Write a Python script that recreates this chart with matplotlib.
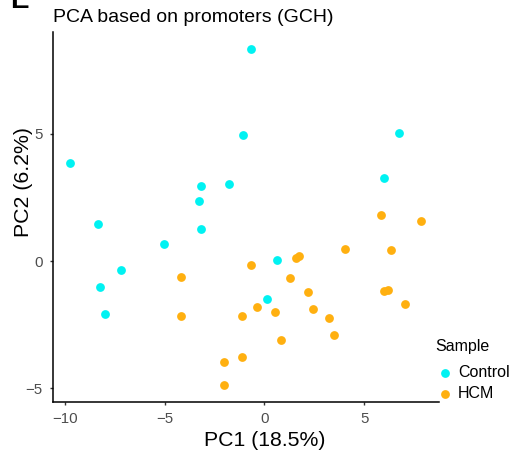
import matplotlib.pyplot as plt

plt.rcParams['font.family'] = ['Liberation Sans', 'DejaVu Sans']

# PCA scores per sample group
control_pc1 = [-0.68, -1.08, 6.72, 5.96, -1.79, -3.18, -3.26, -9.72, -8.34, -3.18,
               -5.01, -7.18, -8.21, -7.98, 0.63, 0.11]
control_pc2 = [8.34, 4.93, 5.03, 3.25, 3.03, 2.94, 2.37, 3.86, 1.47, 1.24,
               0.67, -0.35, -1.01, -2.07, 0.03, -1.49]

hcm_pc1 = [-4.16, -4.16, -0.68, -0.38, -1.13, -2.03, -1.11, -2.03, 0.51, 0.84,
           1.28, 1.58, 1.74, 2.16, 2.41, 3.23, 3.46, 4.01, 5.84, 7.84,
           6.31, 5.99, 6.19, 7.03]
hcm_pc2 = [-0.63, -2.16, -0.17, -1.79, -2.16, -3.95, -3.78, -4.87, -1.98, -3.09,
           -0.68, 0.13, 0.18, -1.23, -1.87, -2.24, -2.89, 0.46, 1.81, 1.57,
           0.42, -1.18, -1.13, -1.70]

groups = ['Control', 'HCM']
colors = ['#00F2F2', '#FFB010']
x_ticks = [-10, -5, 0, 5]
y_ticks = [-5, 0, 5]

fig = plt.figure(figsize=(5.12, 4.63), dpi=100)
ax = fig.add_axes([53 / 512, 1 - 401.7 / 463, (439 - 53) / 512, (401.7 - 32) / 463])

ax.scatter(control_pc1, control_pc2, s=40, color=colors[0], label=groups[0],
           linewidths=0, zorder=3)
ax.scatter(hcm_pc1, hcm_pc2, s=40, color=colors[1], label=groups[1],
           linewidths=0, zorder=3)

ax.set_xlim(-10.58, 8.73)
ax.set_ylim(-5.52, 8.99)
ax.set_xticks(x_ticks)
ax.set_yticks(y_ticks)
ax.set_xticklabels([str(t).replace('-', '\u2212') for t in x_ticks])
ax.set_yticklabels([str(t).replace('-', '\u2212') for t in y_ticks])
ax.tick_params(axis='both', length=2.5, width=1, color='#333333',
               labelcolor='#4D4D4D', labelsize=10.8, pad=5)

for side in ['top', 'right']:
    ax.spines[side].set_visible(False)
for side in ['left', 'bottom']:
    ax.spines[side].set_linewidth(1.1)
    ax.spines[side].set_color('black')

ax.set_xlabel('PC1 (18.5%)', fontsize=15.3)
ax.set_ylabel('PC2 (6.2%)', fontsize=15.3)
ax.xaxis.set_label_coords(0.549, -0.08)
ax.yaxis.set_label_coords(-0.052, 0.595)
ax.set_title('PCA based on promoters (GCH)', loc='left', fontsize=14, pad=7)

leg = ax.legend(title='Sample', loc='upper left', bbox_to_anchor=(435 / 512, 1 - 339 / 463),
                bbox_transform=fig.transFigure, frameon=False, fontsize=11.5,
                title_fontsize=11.5, borderpad=0, borderaxespad=0,
                handletextpad=0.25, labelspacing=0.4, handlelength=1.2,
                alignment='left')
# a bit more room between the legend title and its entries
leg._legend_box.sep = 8

# panel letter, partly cut off at the top edge
fig.text(10 / 512, 1 + 12 / 463, 'E', fontsize=20, fontweight='bold', va='top')

fig.savefig('out.png', dpi=100)
